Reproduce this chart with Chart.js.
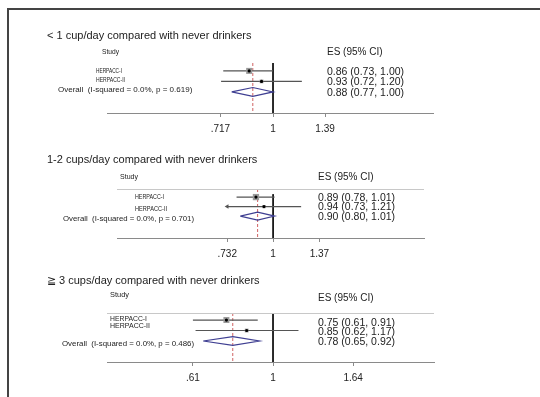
<!DOCTYPE html>
<html>
<head>
<meta charset="utf-8">
<script src="https://cdn.jsdelivr.net/npm/chart.js@4.4.1/dist/chart.umd.min.js"></script>
<style>
  body { margin: 0; background: #fff; }
  #page { position: relative; width: 540px; height: 397px; overflow: hidden; }
  #frame { position: absolute; left: 7px; top: 8px; width: 560px; height: 420px;
           border-top: 2px solid #444; border-left: 2px solid #444; }
  canvas { position: absolute; left: 0; }
</style>
</head>
<body>
<div id="page">
  <div id="frame"></div>
  <canvas id="p1" width="540" height="140" style="top:0px"></canvas>
  <canvas id="p2" width="540" height="125" style="top:140px"></canvas>
  <canvas id="p3" width="540" height="132" style="top:265px"></canvas>
</div>
<script>
// --- data ---
const studies = ['HERPACC-I', 'HERPACC-II'];

const p1Title = '< 1 cup/day compared with never drinkers';
const p1Est = [0.86, 0.93];
const p1Lo = [0.73, 0.72];
const p1Hi = [1.00, 1.20];
const p1Overall = [0.88, 0.77, 1.00];
const p1Het = ['0.0%', '0.619'];
const p1Weights = [72.5, 27.5];
const p1Ticks = [0.717, 1, 1.39];
const p1TickLabels = ['.717', '1', '1.39'];

const p2Title = '1-2 cups/day compared with never drinkers';
const p2Est = [0.89, 0.94];
const p2Lo = [0.78, 0.73];
const p2Hi = [1.01, 1.21];
const p2Overall = [0.90, 0.80, 1.01];
const p2Het = ['0.0%', '0.701'];
const p2Weights = [79.3, 20.7];
const p2Ticks = [0.732, 1, 1.37];
const p2TickLabels = ['.732', '1', '1.37'];

const p3Title = '\u2267 3 cups/day compared with never drinkers';
const p3Est = [0.75, 0.85];
const p3Lo = [0.61, 0.62];
const p3Hi = [0.91, 1.17];
const p3Overall = [0.78, 0.65, 0.92];
const p3Het = ['0.0%', '0.486'];
const p3Weights = [71.6, 28.4];
const p3Ticks = [0.61, 1, 1.64];
const p3TickLabels = ['.61', '1', '1.64'];

const FONT = '"Liberation Sans", Arial, Helvetica, sans-serif';

function fmt(v) { return v.toFixed(2); }

function buildPanel(id, d, lay) {
    const rows = [1, 2];
    const ovRow = 3;
    const datasets = [];

    // centre dots
    datasets.push({
        data: d.est.map((v, i) => ({ x: v, y: rows[i] })),
        pointStyle: 'circle', pointRadius: 1.6, backgroundColor: '#000', borderWidth: 0
    });
    // weight boxes
    datasets.push({
        data: d.est.map((v, i) => ({ x: v, y: rows[i] })),
        pointStyle: 'rect', pointRadius: d.weights.map(w => Math.sqrt(w) / 2),
        backgroundColor: '#9a9a9a', borderWidth: 0
    });
    // arrows where the CI runs past the lowest tick
    d.lo.forEach((v, i) => {
        if (v < d.ticks[0]) {
            datasets.push({
                data: [{ x: d.ticks[0], y: rows[i] }],
                pointStyle: 'triangle', rotation: -90, pointRadius: 2.6,
                backgroundColor: '#555', borderWidth: 0
            });
        }
    });
    // confidence intervals
    d.lo.forEach((v, i) => {
        datasets.push({
            data: [{ x: Math.max(v, d.ticks[0]), y: rows[i] }, { x: d.hi[i], y: rows[i] }],
            showLine: true, borderColor: '#555', borderWidth: 1.2, pointRadius: 0
        });
    });
    // overall diamond
    const [oe, ol, oh] = d.overall;
    datasets.push({
        data: [{ x: ol, y: ovRow }, { x: oe, y: ovRow - 0.42 }, { x: oh, y: ovRow },
               { x: oe, y: ovRow + 0.42 }, { x: ol, y: ovRow }],
        showLine: true, borderColor: '#3f3f92', borderWidth: 1.2, pointRadius: 0, fill: false
    });
    // overall estimate, dashed
    datasets.push({
        data: [{ x: oe, y: lay.yMin }, { x: oe, y: lay.yMax }],
        showLine: true, borderColor: 'rgba(200,70,70,0.85)', borderWidth: 1, borderDash: [3, 2], pointRadius: 0
    });
    // line of no effect
    datasets.push({
        data: [{ x: 1, y: lay.yTop }, { x: 1, y: lay.yMax }],
        showLine: true, borderColor: '#000', borderWidth: 0.9, pointRadius: 0
    });
    datasets.forEach((ds, i) => { ds.order = i; ds.clip = false; });

    const textPlugin = {
        id: 'forestText',
        afterDraw(chart) {
            const ctx = chart.ctx;
            const ys = chart.scales.y;
            const area = chart.chartArea;
            ctx.save();
            ctx.textBaseline = 'middle';
            ctx.fillStyle = '#222';
            ctx.font = '11px ' + FONT;
            ctx.fillText(d.title, lay.titleX, lay.titleY);
            ctx.font = '7.5px ' + FONT;
            ctx.fillText('Study', lay.studyX, lay.headY, lay.studyW);
            ctx.font = '10px ' + FONT;
            ctx.fillText('ES (95% CI)', lay.esX, lay.esY);

            if (lay.rule) {
                ctx.strokeStyle = '#c8c8c8';
                ctx.lineWidth = 1;
                ctx.beginPath();
                ctx.moveTo(area.left, area.top + 0.5);
                ctx.lineTo(area.right, area.top + 0.5);
                ctx.stroke();
            }

            ctx.font = '8px ' + FONT;
            studies.forEach((s, i) => {
                ctx.fillText(s, lay.labelX, ys.getPixelForValue(rows[i]) - lay.labelOff[i], lay.labelW[i]);
            });
            ctx.fillText('Overall  (I-squared = ' + d.het[0] + ', p = ' + d.het[1] + ')',
                lay.ovX, ys.getPixelForValue(ovRow) - lay.labelOff[2], lay.ovW);

            ctx.font = '10.5px ' + FONT;
            d.est.forEach((v, i) => {
                ctx.fillText(fmt(v) + ' (' + fmt(d.lo[i]) + ', ' + fmt(d.hi[i]) + ')',
                    lay.esX, ys.getPixelForValue(rows[i]) - lay.valOff[i]);
            });
            ctx.fillText(fmt(oe) + ' (' + fmt(ol) + ', ' + fmt(oh) + ')',
                lay.esX, ys.getPixelForValue(ovRow) - lay.valOff[2]);
            ctx.restore();
        }
    };

    return new Chart(document.getElementById(id), {
        type: 'scatter',
        data: { datasets: datasets },
        plugins: [textPlugin],
        options: {
            responsive: false,
            animation: false,
            events: [],
            layout: { padding: lay.pad },
            plugins: { legend: { display: false }, tooltip: { enabled: false } },
            scales: {
                x: {
                    type: 'logarithmic',
                    bounds: 'data',
                    min: lay.xMin, max: lay.xMax,
                    afterBuildTicks: s => { s.ticks = d.ticks.map(v => ({ value: v })); },
                    afterFit: s => { s.height = 22; },
                    ticks: {
                        callback: (v, i) => d.tickLabels[i],
                        autoSkip: false, maxRotation: 0, padding: 6,
                        color: '#222', font: { size: 10, family: FONT }
                    },
                    grid: { display: true, drawOnChartArea: false, drawTicks: true, tickLength: 4, color: '#8a8a8a' },
                    border: { display: true, color: '#8a8a8a', width: 1 }
                },
                y: { type: 'linear', min: lay.yMin, max: lay.yMax, reverse: true, display: false }
            }
        }
    });
}

buildPanel('p1', {
    title: p1Title, est: p1Est, lo: p1Lo, hi: p1Hi, overall: p1Overall, het: p1Het,
    weights: p1Weights, ticks: p1Ticks, tickLabels: p1TickLabels
}, {
    pad: { left: 107, right: 107, top: 63, bottom: 140 - 113 - 22 },
    xMin: 0.35, xMax: 2.75, yMin: 0.25, yMax: 5.0, yTop: 0.25, rule: false,
    titleX: 47, titleY: 36, studyX: 102, headY: 52, studyW: 17, esX: 327, esY: 52,
    labelX: 96, labelW: [26, 29], ovX: 58, ovW: 141,
    labelOff: [0, 2, 2], valOff: [-1, -1, -1]
});

buildPanel('p2', {
    title: p2Title, est: p2Est, lo: p2Lo, hi: p2Hi, overall: p2Overall, het: p2Het,
    weights: p2Weights, ticks: p2Ticks, tickLabels: p2TickLabels
}, {
    pad: { left: 117, right: 116, top: 49, bottom: 125 - 98 - 22 },
    xMin: 0.346, xMax: 2.79, yMin: 0.15, yMax: 5.3, yTop: 0.7, rule: true,
    titleX: 47, titleY: 20, studyX: 120, headY: 37, studyW: 18, esX: 318, esY: 37,
    labelX: 135, labelW: [29, 32], ovX: 63, ovW: 131,
    labelOff: [0, -2, -3], valOff: [-1, -1, -1]
});

buildPanel('p3', {
    title: p3Title, est: p3Est, lo: p3Lo, hi: p3Hi, overall: p3Overall, het: p3Het,
    weights: p3Weights, ticks: p3Ticks, tickLabels: p3TickLabels
}, {
    pad: { left: 107, right: 106, top: 48, bottom: 132 - 97 - 22 },
    xMin: 0.359, xMax: 2.70, yMin: 0.33, yMax: 5.0, yTop: 0.33, rule: true,
    titleX: 47, titleY: 16, studyX: 110, headY: 30, studyW: 19, esX: 318, esY: 33,
    labelX: 110, labelW: [37, 40], ovX: 62, ovW: 132,
    labelOff: [1, 5, -3], valOff: [-3, -2, -1]
});
</script>
</body>
</html>
